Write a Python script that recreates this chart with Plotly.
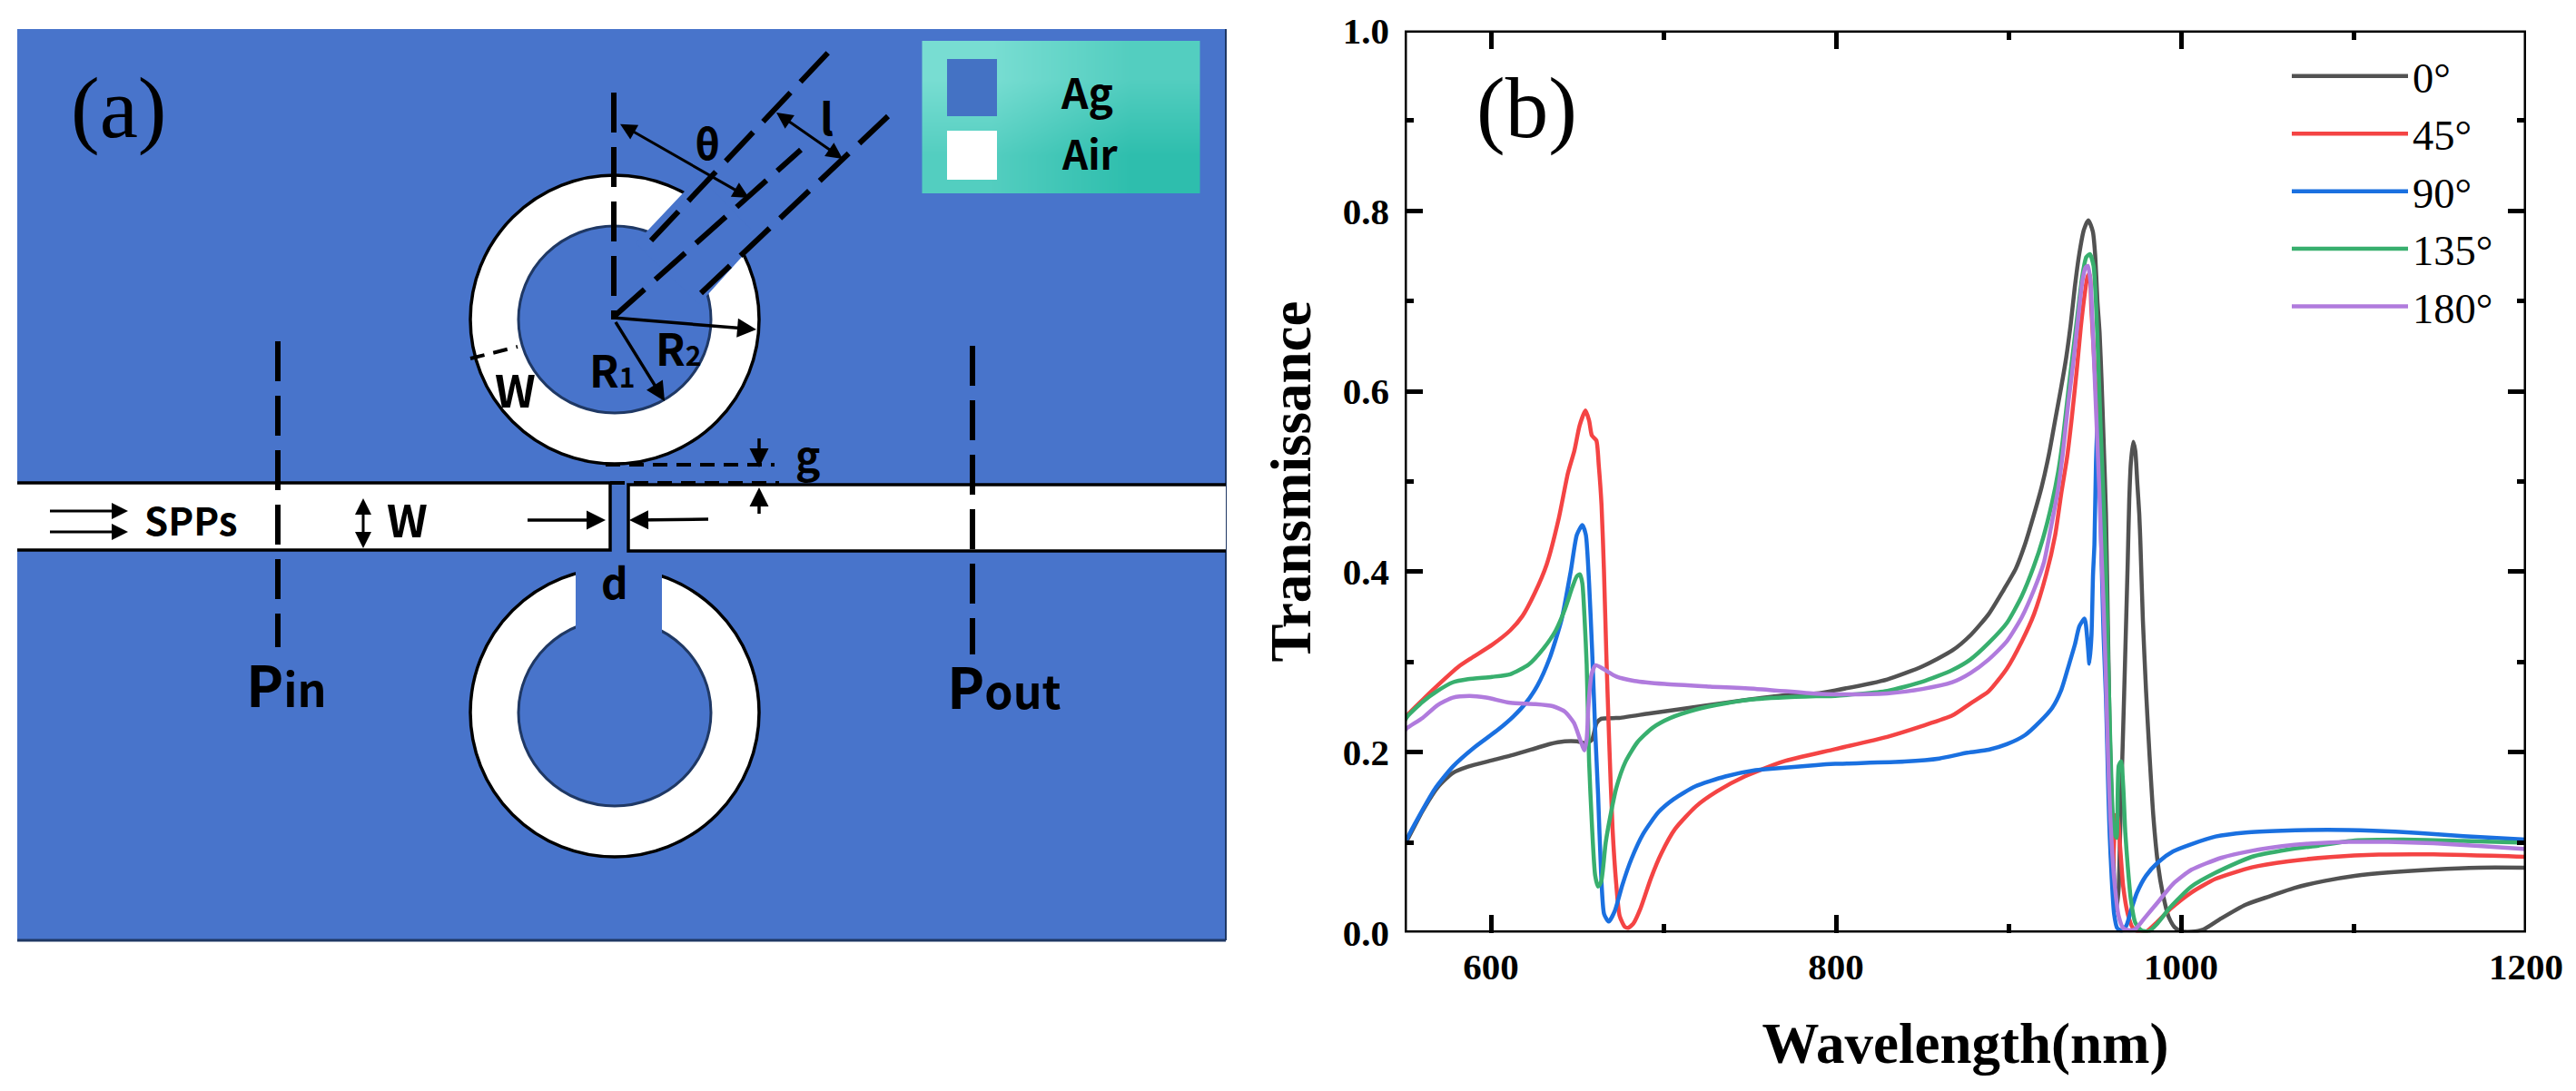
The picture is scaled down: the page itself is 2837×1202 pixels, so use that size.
import plotly.graph_objects as go

W, H = 2837, 1202
SERIF = "Liberation Serif"
SANS = "Noto Sans CJK SC"

# ---------- panel (b) data ----------
names = ["0°", "45°", "90°", "135°", "180°"]
colors = ["#525252", "#F44444", "#1A70E0", "#38AF6E", "#B07BDD"]

x0 = [550, 551.6, 560.4, 569.1, 577.9, 586.7, 600.7, 613, 625.3, 634, 642.8, 649.8, 655.1, 658.6, 661.2, 663.9, 674.4,
      692, 718.3, 744.6, 770.9, 788.4, 799.5, 829.7, 850, 867.4, 877.9, 888.5, 897.2, 904.2, 909.5, 914.8, 919.2,
      923.5, 927, 930.5, 933.5,
      936.1, 938.4, 941, 943.7, 946.3, 948.9, 950.2, 951.6, 952.8, 953.9, 955.1, 956.5, 957.7, 958.6, 959.5, 961.2,
      962.5, 963.9, 964.7, 966, 967, 968.2, 969.1, 970, 970.9, 972.3, 973.5, 974.7, 975.8, 976.5, 977.9, 979.7, 981.8,
      984, 986.7, 989.3, 992.8, 996.3, 999.8, 1006, 1013, 1023.5, 1037.5, 1051.6, 1065.6, 1083, 1100.7, 1121.7, 1146.3,
      1172.6, 1200]
y0 = [.098, .103, .135, .161, .177, .184, .191, .197, .204, .209, .212, .212, .21, .214, .232, .237, .238,
      .243, .25, .257, .263, .265, .2685, .2806, .295, .3127, .3295, .353, .38, .4033, .43, .4636, .4938,
      .5307, .5676, .604, .638,
      .675, .715, .752, .779, .7896, .777, .752, .698, .665, .6145, .5475, .464, .33, .229, .162, .061,
      .025, .051, .111, .195, .262, .346, .41, .48, .52, .544, .534, .497, .464, .43, .346, .269, .195,
      .128, .0746, .0445, .0176, .0059, .0017, .001, .0035, .016, .031, .0404, .0495, .0572, .0629, .0669, .07,
      .072, .072]

x45 = [550, 551.6, 560.4, 569.1, 581.4, 588.4, 600.7, 611.2, 618.3, 625.3, 632.3, 639.3, 644.6, 648.4, 651.4, 654.8,
       656.9, 658.5, 661.1, 662.5, 664.1, 665.5, 666.9, 668.5, 670.5, 672.6, 674.6, 677.6, 679.6, 682.6, 686.7, 692.7,
       698.7, 706.8, 718.9, 731, 747, 769.2, 799.5, 829.7, 850, 867.4, 877.9, 888.5, 899, 907.7, 914.8, 921.8, 927,
       930.6, 934, 936.7,
       939.6, 941.9, 944.2, 945.8, 947, 948, 949.8, 951.6, 953, 954.2, 956, 956.9, 957.7, 958.6, 959.2, 960.2, 961.2,
       961.8, 963, 964.7, 966.5, 969.1, 971.8, 975.3, 979.7, 985.8, 993.7, 1006, 1020, 1041, 1062, 1086.6, 1114.7,
       1146.3, 1200]
y45 = [.235, .241, .258, .274, .295, .304, .319, .335, .351, .376, .408, .459, .509, .5345, .562, .5786,
       .5676, .551, .5455, .518, .474, .402, .308, .214, .115, .0544, .0185, .0064, .0053, .0102, .0268, .06,
       .0875, .115, .14, .1565, .173, .1896, .2034, .217, .229, .2406, .254, .2675, .2926, .3228, .353, .3966, .44,
       .4871, .5273, .571,
       .624, .671, .708, .727, .73, .692, .631, .564, .497, .45, .38, .313, .229, .178, .1, .06, .1,
       .13, .13, .095, .051, .021, .006, .001, .001, .011, .026, .0445, .0596, .0723, .079, .0837, .0864,
       .0867, .084]

x90 = [550, 551.6, 558.6, 567.4, 577.9, 590.2, 604.2, 613, 620, 627, 634, 641, 646.3, 649.8, 653, 655, 656.9, 658.6,
       660.4, 662.1, 663.9, 665.6, 668.3, 671.8, 676.2, 681.4, 688.4, 697.2, 706, 718.3, 735.8, 753.4, 759, 788.4,
       799.5, 839.7, 859.9, 876.2, 888.5, 899, 909.5, 918.3, 925.3, 930.6, 934.9, 938.5, 941.1, 944.1, 945.8, 946.9,
       948.1, 949,
       949.8, 950.7, 951.5, 952.3, 953.5, 955.1, 956.5, 957.7, 958.6, 959.8, 961.2, 963, 965.6, 968.3, 970.9, 974.4,
       979.7, 986.7, 995.4, 1006, 1020, 1037.5, 1058.6, 1084.9, 1111.2, 1137.5, 1163.8, 1200]
y90 = [.098, .105, .13, .159, .184, .205, .225, .2396, .254, .274, .304, .3475, .401, .441, .4516, .441, .387, .315,
       .2253, .1534, .0636, .0205, .0122, .024, .053, .0815, .11, .1337, .148, .162, .173, .18, .181, .1857,
       .187, .1896, .193, .1994, .2027, .2088, .2188, .234, .249, .269, .296, .3194, .3396, .348, .323, .298,
       .329, .397,
       .43, .5206, .56, .57, .45, .33, .26, .168, .111, .061, .021, .005, .002, .0076, .024, .044,
       .063, .078, .09, .098, .1065, .111, .113, .114, .113, .1105, .107, .103]

x135 = [550, 551.6, 560.4, 569.1, 577.9, 586.7, 600.7, 611.2, 621.8, 630.5, 637.6, 642.8, 647.2, 649.8, 651.6, 653,
        654.2, 655.5, 656.9, 658.6, 660.4, 662.1, 663.9, 666.5, 669.1, 672.7, 677.9, 684.9, 693.7, 704.2, 718.3, 735.8,
        753.4, 788.4, 799.5, 829.7, 850, 867.4, 877.9, 888.5, 899, 907.7, 914.8, 920, 925.3, 928.8, 931.4, 934.9, 937.5,
        940.2, 942.8, 945.1, 947.2, 949.3, 950.7, 952.1, 953.3, 954.7, 956, 957.2, 958.3, 959.5, 961.2, 962.6, 963.9,
        965.3, 966.5, 967.7, 969.1, 970.9, 973.5, 977, 981.4, 985.8, 993.7, 1006, 1020, 1041, 1062, 1079.6, 1100.7,
        1128.8, 1163.8, 1200]
y135 = [.235, .2397, .2558, .268, .2774, .281, .2835, .2864, .297, .315, .335, .358, .383, .395, .397, .387,
        .351, .297, .189, .117, .0636, .051, .0564, .0995, .128, .1606, .189, .211, .227, .238, .247, .254,
        .2587, .262, .2624, .268, .278, .291, .3027, .321, .343, .373, .4066, .437, .477, .5106, .545, .604, .645,
        .688, .728, .7487, .752, .739, .698, .631, .564, .497, .43, .346, .262, .178, .111, .105, .185,
        .19, .162, .111, .074, .037, .011, .0025, .0015, .009, .028, .051, .0663, .084, .092, .0964, .102,
        .1031, .1015, .0995]

x180 = [550, 551.6, 560.4, 569.1, 577.9, 587.6, 597.2, 611.2, 625.3, 635.8, 642.8, 648.1, 651.6, 654.2, 655.5, 656.5,
        658.3, 660.7, 665.6, 672.7, 683.2, 700.7, 727, 753.4, 788.4, 799.5, 829.7, 850, 867.4, 877.9, 888.5, 899, 907.7,
        914.8, 920.5, 924.4, 928.8, 931.4, 934.9, 937.5, 940.2, 942.8, 944.6, 946, 947.5, 948.9, 950.7, 952.5, 953.9,
        955.1, 956.5, 957.7, 959, 961.2, 963.9, 966.5, 970, 973.5, 979.7, 986.7, 995.4, 1006, 1023.5, 1041, 1058.6,
        1076, 1097.2, 1120, 1146.3, 1172.6, 1200]
y180 = [.224, .227, .238, .2522, .2605, .2623, .2605, .2547, .2533, .251, .245, .2325, .2145, .202, .2145, .2504,
        .2864, .2964, .2917, .2838, .279, .2756, .2727, .2702, .2648, .2641, .2652, .27, .2775, .2876, .3027, .3228, .3496,
        .38, .41, .447, .492, .53, .591, .631, .678, .722, .737, .739, .722, .665, .581, .497, .42,
        .363, .279, .195, .128, .061, .018, .005, .0025, .004, .018, .034, .054, .0696, .083, .0907, .0958,
        .0988, .1005, .1005, .099, .096, .0925]

wave_x = [x0, x45, x90, x135, x180]
wave_y = [y0, y45, y90, y135, y180]

x_ticks = [600, 800, 1000, 1200]
y_ticks = [0.0, 0.2, 0.4, 0.6, 0.8, 1.0]

# ---------- panel (a) schematic, in drawing units of the left panel ----------
panel_box = (19, 32, 1350, 1036)
ring_centres_y = [352, 785]
ring_cx = 677
outer_r = 159
inner_rx, inner_ry = 106, 103
stub_top_ring = "M 700 268 L 770 194 L 836 262 L 770 335 Z"
stub_bot_ring = (634, 600, 729, 700)
guide_left = "M 19 532 L 672 532 L 672 606 L 19 606"
guide_right = "M 1350 534 L 692 534 L 692 607 L 1350 607"

dashed_heavy = [  # x0, y0, x1, y1
    (676, 102, 676, 352), (717, 265, 912, 58), (677, 348, 882, 165), (772, 323, 978, 128),
    (306, 376, 306, 713), (1071, 381, 1071, 721),
]
dashed_light = [(667, 512, 853, 512), (672, 532, 858, 532), (518, 395, 570, 382)]

arrows = [  # x0, y0, x1, y1, both heads, width
    (680, 135, 825, 218, True, 3), (852, 122, 928, 175, True, 3),
    (675, 350, 833, 363, False, 3.5), (675, 350, 732, 442, False, 3.5),
    (400, 539, 400, 604, True, 3), (52, 563, 141, 563, False, 3), (52, 586, 141, 586, False, 3),
    (578, 573, 667, 573, False, 3.5), (783, 572, 693, 573, False, 3.5),
    (836, 473, 836, 515, False, 3.5), (836, 576, 836, 537, False, 3.5),
]

big = "font-size:62px"
small = "font-size:50px"
labels = [  # text, x, y, size
    ("θ", 779, 156, 46), ("l", 910, 128, 48),
    ("R<span style='font-size:30px'>1</span>", 674, 406, 48),
    ("R<span style='font-size:30px'>2</span>", 747, 382, 48),
    ("W", 567, 427, 49), ("g", 889, 500, 46), ("d", 677, 640, 46), ("W", 448, 570, 49), ("SPPs", 210, 571, 42),
    (f"<span style='{big}'>P</span><span style='{small}'>in</span>", 315, 752, 50),
    (f"<span style='{big}'>P</span><span style='{small}'>out</span>", 1106, 754, 50),
    ("Ag", 1197, 100, 46), ("Air", 1200, 168, 44),
]

key_x = [1092, 1245]
key_y = [87, 171]
key_z = [[0.0, 0.5], [0.5, 1.0]]

fig = go.Figure()

for name, color, xs, ys in zip(names, colors, wave_x, wave_y):
    fig.add_trace(go.Scatter(x=xs, y=ys, name=name, mode="lines", xaxis="x", yaxis="y",
                             line=dict(color=color, width=4.5, shape="spline", smoothing=0.6)))

fig.add_trace(go.Heatmap(x=key_x, y=key_y, z=key_z, xaxis="x2", yaxis="y2", zsmooth="best", showscale=False,
                         zmin=0, zmax=1, colorscale=[[0, "#78DDD2"], [1, "#2EBEAD"]], hoverinfo="skip"))

shapes = []
def s(**kw):
    kw.setdefault("xref", "x2")
    kw.setdefault("yref", "y2")
    shapes.append(kw)

BLUE = "#4874CB"
s(type="rect", x0=panel_box[0], y0=panel_box[1], x1=panel_box[2], y1=panel_box[3], fillcolor=BLUE,
  line=dict(width=0), layer="below")
s(type="line", x0=panel_box[0], y0=panel_box[3], x1=panel_box[2], y1=panel_box[3], line=dict(color="#1F3864", width=3))
s(type="line", x0=panel_box[2], y0=panel_box[1], x1=panel_box[2], y1=panel_box[3], line=dict(color="#1F3864", width=2))
for cy in ring_centres_y:
    s(type="circle", x0=ring_cx - outer_r, x1=ring_cx + outer_r, y0=cy - outer_r, y1=cy + outer_r,
      fillcolor="white", line=dict(color="black", width=3.5))
    s(type="circle", x0=ring_cx - inner_rx, x1=ring_cx + inner_rx, y0=cy - inner_ry, y1=cy + inner_ry,
      fillcolor=BLUE, line=dict(color="#1F3864", width=3))
s(type="path", path=stub_top_ring, fillcolor=BLUE, line=dict(width=0))
s(type="rect", x0=stub_bot_ring[0], y0=stub_bot_ring[1], x1=stub_bot_ring[2], y1=stub_bot_ring[3],
  fillcolor=BLUE, line=dict(width=0))
s(type="rect", x0=19, y0=532, x1=672, y1=606, fillcolor="white", line=dict(width=0))
s(type="rect", x0=692, y0=534, x1=1350, y1=607, fillcolor="white", line=dict(width=0))
s(type="path", path=guide_left, line=dict(color="black", width=3.5))
s(type="path", path=guide_right, line=dict(color="black", width=3.5))
for a, b, c, d in dashed_heavy:
    s(type="line", x0=a, y0=b, x1=c, y1=d, line=dict(color="black", width=6, dash="44px,16px"))
for a, b, c, d in dashed_light:
    s(type="line", x0=a, y0=b, x1=c, y1=d, line=dict(color="black", width=4, dash="16px,10px"))
s(type="rect", x0=1043, y0=65, x1=1098, y1=128, fillcolor="#4472C4", line=dict(width=0))
s(type="rect", x0=1043, y0=144, x1=1098, y1=198, fillcolor="white", line=dict(width=0))
# frame of panel (b)
s(type="rect", xref="x", yref="y", x0=550, x1=1200, y0=0, y1=1, line=dict(color="black", width=5))

anns = []
for a, b, c, d, both, w in arrows:
    anns.append(dict(xref="x2", yref="y2", axref="x2", ayref="y2", x=c, y=d, ax=a, ay=b, showarrow=True,
                     arrowhead=2, startarrowhead=2, arrowside="end+start" if both else "end",
                     arrowwidth=w, arrowsize=1.2, startarrowsize=1.2, arrowcolor="black", standoff=0, startstandoff=0))
for text, a, b, size in labels:
    anns.append(dict(xref="x2", yref="y2", x=a, y=b, text=text, showarrow=False, xanchor="center", yanchor="middle",
                     font=dict(family=SANS, size=size, color="black", weight=700)))
anns.append(dict(xref="x2", yref="y2", x=130, y=119, text="(a)", showarrow=False,
                 font=dict(family=SERIF, size=95, color="black")))
anns.append(dict(xref="x", yref="y", x=621, y=0.914, text="(b)", showarrow=False,
                 font=dict(family=SERIF, size=95, color="black")))

tick_font = dict(family=SERIF, size=41, color="black", weight=700)
title_font = dict(family=SERIF, size=63, color="black", weight=700)

fig.update_layout(
    width=W, height=H, margin=dict(l=0, r=0, t=0, b=0, autoexpand=False), paper_bgcolor="white",
    plot_bgcolor="rgba(0,0,0,0)", shapes=shapes, annotations=anns,
    xaxis=dict(domain=[1547 / W, 2782 / W], range=[550, 1200], anchor="y", tickvals=x_ticks, ticks="inside",
               ticklen=20, tickwidth=5, tickcolor="black", mirror="ticks", showline=False, showgrid=False,
               zeroline=False, tickfont=tick_font, ticklabelstandoff=9, automargin=False,
               minor=dict(dtick=100, tick0=600, ticks="inside", ticklen=10, tickwidth=5, tickcolor="black", showgrid=False),
               title=dict(text="Wavelength(nm)", font=title_font, standoff=40)),
    yaxis=dict(domain=[1 - 1027.5 / H, 1 - 33.5 / H], range=[0, 1], anchor="x", tickvals=y_ticks, tickformat=".1f",
               ticks="inside", ticklen=20, tickwidth=5, tickcolor="black", mirror="ticks", showline=False,
               showgrid=False, zeroline=False, tickfont=tick_font, ticklabelstandoff=16, automargin=False,
               minor=dict(dtick=0.1, tick0=0, ticks="inside", ticklen=10, tickwidth=5, tickcolor="black", showgrid=False),
               title=dict(text="Transmissance", font=title_font, standoff=14)),
    xaxis2=dict(domain=[0, 1400 / W], range=[0, 1400], anchor="y2", visible=False, fixedrange=True),
    yaxis2=dict(domain=[0, 1], range=[H, 0], anchor="x2", visible=False, fixedrange=True),
    legend=dict(x=2519 / W, xanchor="left", y=1 - 47 / H, yanchor="top", bgcolor="rgba(0,0,0,0)", borderwidth=0,
                itemwidth=128, font=dict(family=SERIF, size=46.5, color="black")),
)

fig.write_html("out.html", post_script="document.body.style.margin='0';", config={"displayModeBar": False})
